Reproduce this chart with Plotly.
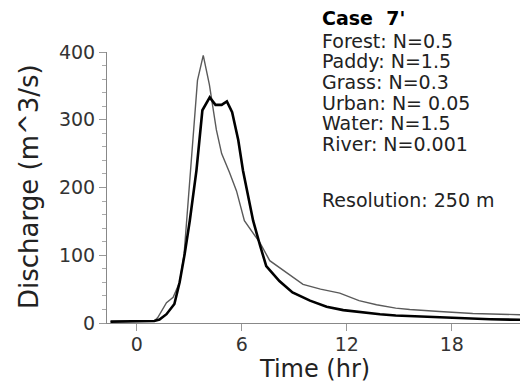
import plotly.graph_objects as go

# Thin gray hydrograph
gray_t = [-1.5, 0, 1.0, 1.2, 1.5, 1.7, 2.08, 2.45, 2.7, 2.85, 3.03, 3.47, 3.8, 4.15, 4.55, 4.85,
          5.3, 5.7, 6.15, 6.85, 7.05, 7.6, 8.55, 9.5, 10.5, 11.6, 12.7, 13.7, 14.8, 15.6,
          17.3, 19.2, 22.3]
gray_v = [2, 2, 3, 8, 22, 30, 38, 60, 100, 150, 222, 358, 395, 352, 285, 250,
          222, 195, 151, 124, 118, 92, 74, 57, 50, 44, 33, 27, 22, 20,
          17, 14, 12]

# Thick black hydrograph
black_t = [-1.5, 0, 1.0, 1.3, 1.7, 2.15, 2.45, 2.74, 3.03, 3.41, 3.75, 4.17, 4.5, 4.85, 5.15,
           5.45, 5.8, 6.07, 6.65, 7.05, 7.4, 8.15, 8.9, 9.9, 10.85, 11.8, 12.75, 13.9,
           14.8, 16.4, 17.9, 18.8, 20.2, 22.3]
black_v = [2, 2, 3, 5, 13, 28, 60, 102, 151, 225, 314, 333, 322, 322, 327,
           311, 270, 225, 151, 114, 84, 62, 45, 33, 24, 19, 16, 13,
           11, 9.4, 8, 6.5, 5.5, 4.5]

x_ticks = [0, 6, 12, 18]
y_ticks = [0, 100, 200, 300, 400]

info_lines = ["Forest: N=0.5", "Paddy: N=1.5", "Grass: N=0.3", "Urban: N=\u00a00.05",
              "Water: N=1.5", "River: N=0.001"]
title_line = "Case\u00a0\u00a07'"
res_line = "Resolution: 250 m"
x_title = "Time (hr)"
y_title = "Discharge (m^3/s)"

FONT = "DejaVu Sans"
OFF = 8  # page body margin
W, H = 528 - OFF, 391 - OFF
# plot area in page pixels: left 107, right 527, top 52, bottom 323
ML = 107 - OFF
MT = 52 - OFF
MR = W - (527 - OFF)
MB = H - (323 - OFF)
PW, PH = W - ML - MR, H - MT - MB


def px(x):
    return (x - OFF - ML) / PW


def py(y):
    return (H - MB - (y - OFF)) / PH


fig = go.Figure()
fig.add_trace(go.Scatter(x=gray_t, y=gray_v, mode="lines",
                         line=dict(color="#5a5a5a", width=1.4), showlegend=False))
fig.add_trace(go.Scatter(x=black_t, y=black_v, mode="lines",
                         line=dict(color="#000000", width=2.6), showlegend=False))

TX = 321
annotations = [dict(text="<b>" + title_line + "</b>", x=px(TX), y=py(18), xref="paper", yref="paper",
                    xanchor="left", yanchor="middle", showarrow=False, borderpad=0,
                    font=dict(family=FONT, size=19, color="#000"))]
ys = [41, 61.5, 82, 102.5, 123, 143.5]
for t, yy in zip(info_lines, ys):
    annotations.append(dict(text=t, x=px(TX), y=py(yy), xref="paper", yref="paper",
                            xanchor="left", yanchor="middle", showarrow=False, borderpad=0,
                            font=dict(family=FONT, size=19, color="#222")))
annotations.append(dict(text=res_line, x=px(TX), y=py(200), xref="paper", yref="paper",
                        xanchor="left", yanchor="middle", showarrow=False, borderpad=0,
                        font=dict(family=FONT, size=19, color="#222")))
annotations.append(dict(text=x_title, x=px(314), y=py(369), xref="paper", yref="paper",
                        xanchor="center", yanchor="middle", showarrow=False, borderpad=0,
                        font=dict(family=FONT, size=24, color="#222")))
annotations.append(dict(text=y_title, x=px(29), y=py(187), xref="paper", yref="paper",
                        xanchor="center", yanchor="middle", showarrow=False, borderpad=0,
                        textangle=-90,
                        font=dict(family=FONT, size=26, color="#222")))

fig.update_layout(
    width=W, height=H,
    margin=dict(l=ML, r=MR, t=MT, b=MB, pad=0, autoexpand=False),
    paper_bgcolor="white", plot_bgcolor="white",
    font=dict(family=FONT, color="#222"),
    annotations=annotations,
    xaxis=dict(range=[-1.7, 22.3], tickvals=x_ticks, ticks="outside", ticklen=7,
               tickcolor="#999", showline=True, linecolor="#888", linewidth=1,
               showgrid=False, zeroline=False, automargin=False, ticklabelstandoff=-3,
               tickfont=dict(family=FONT, size=19, color="#333")),
    yaxis=dict(range=[0, 400], tickvals=y_ticks, ticks="outside", ticklen=7,
               tickcolor="#999", showline=True, linecolor="#888", linewidth=1,
               showgrid=False, zeroline=False, automargin=False,
               minor=dict(dtick=20, ticks="outside", ticklen=4, tickcolor="#aaa"),
               tickfont=dict(family=FONT, size=19, color="#333")),
)

fig.write_html("out.html")
